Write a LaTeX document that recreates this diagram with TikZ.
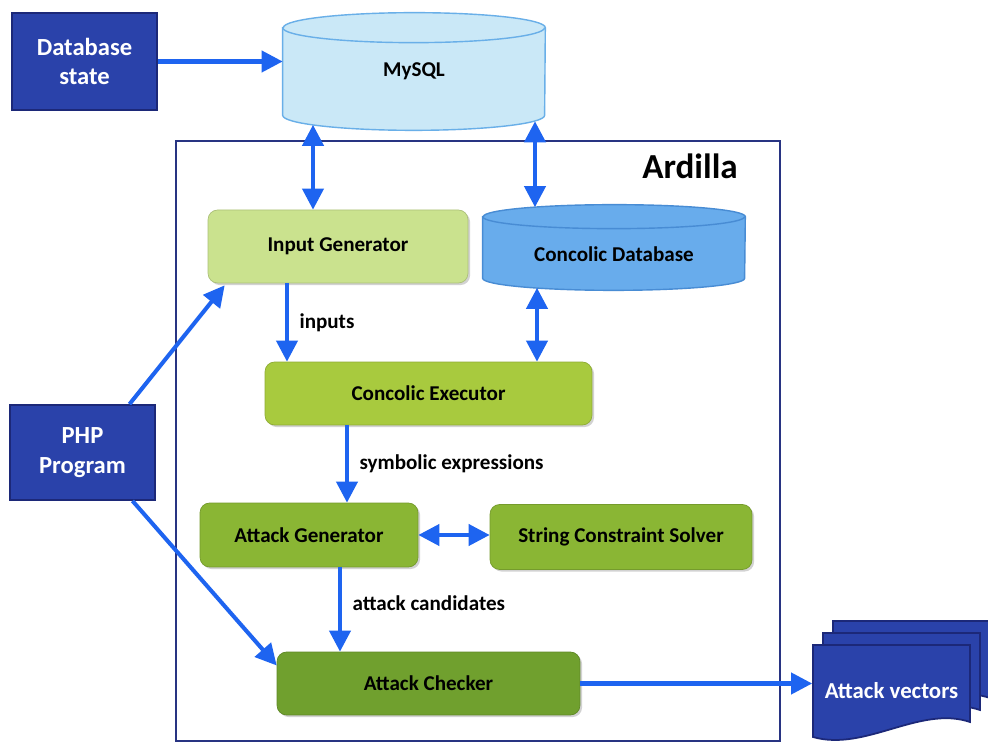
\documentclass[tikz,border=0pt]{standalone}
\usepackage{fontspec}
\setmainfont{Carlito}
\usetikzlibrary{arrows.meta,shadows,calc,backgrounds}

\definecolor{arrowblue}{RGB}{30,100,240}
\definecolor{extfill}{RGB}{42,66,170}
\definecolor{extline}{RGB}{28,40,120}
\definecolor{sqlfill}{RGB}{202,232,247}
\definecolor{sqlline}{RGB}{105,175,232}
\definecolor{cdbfill}{RGB}{104,172,236}
\definecolor{cdbline}{RGB}{72,140,212}
\definecolor{igfill}{RGB}{202,226,142}
\definecolor{execfill}{RGB}{168,202,62}
\definecolor{agfill}{RGB}{138,182,52}
\definecolor{chkfill}{RGB}{112,160,46}
\definecolor{frameline}{RGB}{40,52,130}

\begin{document}
\begin{tikzpicture}[x=0.02cm,y=-0.02cm,
  ext/.style={draw=extline, fill=extfill, line width=1pt, text=white,
    font=\fontsize{14}{17}\selectfont\bfseries, align=center},
  comp/.style={rounded corners=5.5pt, draw=#1!85!black, fill=#1, line width=0.4pt,
    font=\fontsize{12}{14}\selectfont\bfseries,
    drop shadow={opacity=0.35, shadow xshift=1.2pt, shadow yshift=-1.2pt}},
  db/.style={inner sep=0pt, font=\fontsize{12}{14}\selectfont\bfseries},
  cyl/.style={line width=0.8pt},
  flow/.style={draw=arrowblue, line width=2.3pt, -{Triangle[length=12pt,width=12pt]}},
  biflow/.style={draw=arrowblue, line width=2.3pt,
    {Triangle[length=12pt,width=12pt]}-{Triangle[length=12pt,width=12pt]}},
  elabel/.style={font=\fontsize{12}{14}\selectfont\bfseries, anchor=west, inner sep=0pt},
  page/.style={draw=extline, fill=extfill, line width=1pt}]

\useasboundingbox (0,0) rectangle (988,742);
\begin{scope}[on background layer]
  \fill[white] (0,0) rectangle (988,742);
\end{scope}

% Ardilla frame
\draw[frameline, line width=1.2pt] (176,141) rectangle (780,741);
\node[font=\fontsize{20}{24}\selectfont\bfseries] (ardilla) at (690,166) {Ardilla};

% outside inputs
\node[ext, minimum width=2.9cm, minimum height=1.94cm] (dbstate) at (84.5,61.5) {Database\\state};
\node[ext, minimum width=2.9cm, minimum height=1.9cm] (php) at (82.5,452.5) {PHP\\Program};
\node[db, minimum width=5.24cm, minimum height=2.34cm] (mysql) at (414,71.5) {MySQL};

% components
\node[comp=igfill, minimum width=5.2cm, minimum height=1.46cm] (ig) at (338,246.5) {Input Generator};
\node[db, text height=16pt, minimum width=5.24cm, minimum height=1.7cm] (cdb) at (614,247.5) {Concolic Database};
\node[comp=execfill, minimum width=6.54cm, minimum height=1.26cm] (exec) at (428.5,393.5) {Concolic Executor};
\node[comp=agfill, minimum width=4.36cm, minimum height=1.28cm] (ag) at (309,535) {Attack Generator};
\node[comp=agfill, minimum width=5.24cm, minimum height=1.3cm] (scs) at (621,537) {String Constraint Solver};
\node[comp=chkfill, minimum width=6.06cm, minimum height=1.26cm] (chk) at (428.5,683.5) {Attack Checker};

% cylinders behind the database texts
\begin{scope}[on background layer]
  \path[cyl, draw=sqlline, fill=sqlfill] ([yshift=-0.3cm]mysql.north west) -- ([yshift=0.3cm]mysql.south west)
    arc (180:360:2.62cm and 0.3cm) -- ([yshift=-0.3cm]mysql.north east) arc (0:180:2.62cm and 0.3cm) -- cycle;
  \draw[cyl, sqlline] ([yshift=-0.3cm]mysql.north west) arc (180:360:2.62cm and 0.3cm);
  \path[cyl, draw=cdbline, fill=cdbfill] ([yshift=-0.24cm]cdb.north west) -- ([yshift=0.24cm]cdb.south west)
    arc (180:360:2.62cm and 0.24cm) -- ([yshift=-0.24cm]cdb.north east) arc (0:180:2.62cm and 0.24cm) -- cycle;
  \draw[cyl, cdbline] ([yshift=-0.24cm]cdb.north west) arc (180:360:2.62cm and 0.24cm);
\end{scope}

% output pages
\foreach \d in {2,1,0}
  \draw[page, shift={(\d*10,-\d*12)}] (813,645) -- (970,645) -- (970,722)
    .. controls (920,705) and (865,752) .. (813,737) -- cycle;
\node[ext, font=\fontsize{13}{16}\selectfont\bfseries, draw=none, fill=none,
  minimum width=3.14cm, minimum height=1.84cm] (vectors) at (891.5,691) {Attack vectors};

% connector ends
\coordinate (igin) at ($(ig.north)+(-25,0)$);
\coordinate (igout) at ($(ig.south)+(-51,0)$);
\coordinate (cdbin) at ($(cdb.north)+(-79,2.5)$);
\coordinate (cdbout) at ($(cdb.south)+(-77,-2.5)$);
\coordinate (execout) at ($(exec.south)+(-81.5,0)$);
\coordinate (agout) at ($(ag.south)+(31,0)$);

% connectors
\path[flow] (dbstate.east) -- (dbstate.east -| mysql.west);
\path[biflow] (igin) -- ($(mysql.south)+(-101,-5.5)$);
\path[biflow] (cdbin) -- ($(mysql.south)+(121,-9)$);
\path[flow] (igout) -- node[elabel, xshift=6pt] {inputs} (igout |- exec.north);
\path[biflow] (cdbout) -- (cdbout |- exec.north);
\path[flow] (execout) -- node[elabel, xshift=6pt] {symbolic expressions} (execout |- ag.north);
\path[biflow] (ag.east) -- (ag.east -| scs.west);
\path[flow] (agout) -- node[elabel, xshift=6pt, pos=0.42] {attack candidates} (agout |- chk.north);
\path[flow] (chk.east) -- (chk.east -| vectors.west);
\path[flow] ($(php.north)+(47,0)$) -- ($(ig.south west)+(17,2)$);
\path[flow] ($(php.south)+(50,0)$) -- ($(chk.west)+(0,-18)$);

\end{tikzpicture}
\end{document}
